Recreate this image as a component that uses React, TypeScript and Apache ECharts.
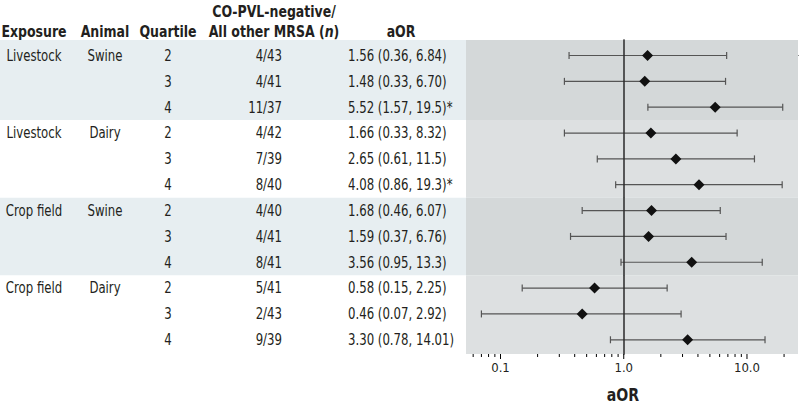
import React, { useEffect, useRef } from "react";
import * as echarts from "echarts";

// ---- data ----
const groupExposure = ["Livestock", "Livestock", "Crop field", "Crop field"];
const groupAnimal = ["Swine", "Dairy", "Swine", "Dairy"];
const quartiles = ["2", "3", "4", "2", "3", "4", "2", "3", "4", "2", "3", "4"];
const counts = ["4/43", "4/41", "11/37", "4/42", "7/39", "8/40", "4/40", "4/41", "8/41", "5/41", "2/43", "9/39"];
const aor = [1.56, 1.48, 5.52, 1.66, 2.65, 4.08, 1.68, 1.59, 3.56, 0.58, 0.46, 3.3];
const lower = [0.36, 0.33, 1.57, 0.33, 0.61, 0.86, 0.46, 0.37, 0.95, 0.15, 0.07, 0.78];
const upper = [6.84, 6.7, 19.5, 8.32, 11.5, 19.3, 6.07, 6.76, 13.3, 2.25, 2.92, 14.01];
const aorText = [
  "1.56 (0.36, 6.84)",
  "1.48 (0.33, 6.70)",
  "5.52 (1.57, 19.5)*",
  "1.66 (0.33, 8.32)",
  "2.65 (0.61, 11.5)",
  "4.08 (0.86, 19.3)*",
  "1.68 (0.46, 6.07)",
  "1.59 (0.37, 6.76)",
  "3.56 (0.95, 13.3)",
  "0.58 (0.15, 2.25)",
  "0.46 (0.07, 2.92)",
  "3.30 (0.78, 14.01)",
];
const majorTickValues = [0.1, 1, 10];
const majorTickLabels = ["0.1", "1.0", "10.0"];
const minorTickValues = [0.06, 0.07, 0.08, 0.09, 0.2, 0.3, 0.4, 0.5, 0.6, 0.7, 0.8, 0.9, 2, 3, 4, 5, 6, 7, 8, 9, 20];
const rowsPerGroup = 3;

const FONT = "'DejaVu Sans Condensed', 'Liberation Sans Narrow', sans-serif";
const TEXT = "#231f20";
const SX = 0.87;

export default function App() {
  const ref = useRef<HTMLDivElement>(null);
  useEffect(() => {
    if (!ref.current) return;
    const chart = echarts.init(ref.current, null, { renderer: "svg" });
    const lg = (v: number) => Math.log10(v);
    const yMin = -0.6;
    const yMax = 11.55;
    const xMin = -1.28;
    const xMax = 1.414;

    const exposureCol = aor.map((_, i) => (i % rowsPerGroup === 0 ? groupExposure[i / rowsPerGroup] : ""));
    const animalCol = aor.map((_, i) => (i % rowsPerGroup === 0 ? groupAnimal[i / rowsPerGroup] : ""));

    const bands = groupExposure.map((_, g) => [
      g === 0 ? yMin : g * rowsPerGroup - 0.5,
      g === groupExposure.length - 1 ? yMax : (g + 1) * rowsPerGroup - 0.5,
    ]);

    const textColumn = (texts: string[], colX: number, align: string) => ({
      type: "custom",
      xAxisIndex: 1,
      yAxisIndex: 1,
      silent: true,
      data: texts.map((_, i) => [colX, i]),
      renderItem: (params: any, api: any) => {
        const p = api.coord([api.value(0), api.value(1)]);
        return {
          type: "text",
          x: p[0],
          y: p[1],
          scaleX: SX,
          style: {
            text: texts[params.dataIndex],
            textAlign: align,
            textVerticalAlign: "middle",
            fill: TEXT,
            font: `15px ${FONT}`,
          },
        };
      },
    });

    const header = (text: string, x: number, y: number, align = "center") => ({
      type: "text",
      x,
      y,
      scaleX: SX,
      style: {
        text,
        textAlign: align,
        textVerticalAlign: "middle",
        fill: TEXT,
        font: `bold 16px ${FONT}`,
        rich: { i: { fontStyle: "italic", fontWeight: "bold", fontSize: 16, fontFamily: FONT, fill: TEXT } },
      },
    });

    const tickData = [
      ...majorTickValues.map((v) => [lg(v), 5]),
      ...minorTickValues.map((v) => [lg(v), 3]),
    ];

    const option: any = {
      animation: false,
      grid: [
        { left: 466, right: 2, top: 40, bottom: 53 },
        { left: 0, width: 466, top: 40, bottom: 53 },
      ],
      xAxis: [
        {
          type: "value",
          gridIndex: 0,
          position: "bottom",
          min: xMin,
          max: xMax,
          axisLine: { show: true, lineStyle: { color: "#000", width: 1.2 } },
          axisTick: { show: false },
          axisLabel: {
            show: true,
            customValues: majorTickValues.map(lg),
            formatter: (v: number) => {
              const k = majorTickValues.findIndex((t) => Math.abs(lg(t) - v) < 1e-6);
              return k >= 0 ? majorTickLabels[k] : "";
            },
            margin: 7,
            color: TEXT,
            fontFamily: FONT,
            fontSize: 13,
          },
          splitLine: { show: false },
        },
        { type: "value", gridIndex: 1, min: 0, max: 466, show: false },
      ],
      yAxis: [
        {
          type: "value",
          gridIndex: 0,
          inverse: true,
          min: yMin,
          max: yMax,
          axisLine: { show: true, lineStyle: { color: "#000", width: 1.5 } },
          axisTick: { show: false },
          axisLabel: { show: false },
          splitLine: { show: false },
        },
        { type: "value", gridIndex: 1, inverse: true, min: yMin, max: yMax, show: false },
      ],
      graphic: [
        header("Exposure", 34, 32),
        header("Animal", 105, 32),
        header("Quartile", 168, 32),
        header("CO-PVL-negative/", 274, 12),
        header("All other MRSA ({i|n})", 274, 32),
        header("aOR", 401, 32),
        {
          type: "text",
          x: 623,
          y: 395,
          scaleX: SX,
          style: { text: "aOR", textAlign: "center", textVerticalAlign: "middle", fill: TEXT, font: `bold 18px ${FONT}` },
        },
      ],
      series: [
        {
          type: "custom",
          xAxisIndex: 0,
          yAxisIndex: 0,
          silent: true,
          data: aor.map((_, i) => [lg(lower[i]), lg(upper[i]), i]),
          renderItem: (_params: any, api: any) => {
            const a = api.coord([api.value(0), api.value(2)]);
            const b = api.coord([api.value(1), api.value(2)]);
            const st = { stroke: "#555", lineWidth: 1.2 };
            return {
              type: "group",
              children: [
                { type: "line", shape: { x1: a[0], y1: a[1], x2: b[0], y2: b[1] }, style: st },
                { type: "line", shape: { x1: a[0], y1: a[1] - 3.5, x2: a[0], y2: a[1] + 3.5 }, style: st },
                { type: "line", shape: { x1: b[0], y1: b[1] - 3.5, x2: b[0], y2: b[1] + 3.5 }, style: st },
              ],
            };
          },
          markArea: {
            silent: true,
            data: bands.map((b, g) => [
              { yAxis: b[0], itemStyle: { color: g % 2 === 0 ? "#d4d8d9" : "#dde0e1" } },
              { yAxis: b[1] },
            ]),
          },
          markLine: {
            silent: true,
            symbol: "none",
            label: { show: false },
            lineStyle: { color: "#2a2a2a", width: 1.5, type: "solid" },
            data: [{ xAxis: 0 }],
          },
          z: 3,
        },
        {
          type: "custom",
          xAxisIndex: 0,
          yAxisIndex: 0,
          silent: true,
          clip: false,
          data: tickData,
          renderItem: (_params: any, api: any) => {
            const p = api.coord([api.value(0), yMax]);
            const len = api.value(1);
            return {
              type: "line",
              shape: { x1: p[0], y1: p[1], x2: p[0], y2: p[1] + len },
              style: { stroke: "#000", lineWidth: 1 },
            };
          },
          z: 6,
        },
        {
          type: "scatter",
          xAxisIndex: 0,
          yAxisIndex: 0,
          symbol: "diamond",
          symbolSize: [11, 11],
          itemStyle: { color: "#111", opacity: 1 },
          data: aor.map((v, i) => [lg(v), i]),
          silent: true,
          z: 5,
        },
        {
          type: "custom",
          xAxisIndex: 1,
          yAxisIndex: 1,
          silent: true,
          data: [],
          renderItem: () => null,
          markArea: {
            silent: true,
            data: bands
              .filter((_, g) => g % 2 === 0)
              .map((b) => [{ yAxis: b[0], itemStyle: { color: "#e7eef1" } }, { yAxis: b[1] }]),
          },
        },
        textColumn(exposureCol, 34, "center"),
        textColumn(animalCol, 105, "center"),
        textColumn(quartiles, 168, "center"),
        textColumn(counts, 282, "right"),
        textColumn(aorText, 348, "left"),
      ],
    };
    chart.setOption(option);
    return () => chart.dispose();
  }, []);
  return <div ref={ref} style={{ position: "fixed", left: 0, top: 0, width: 800, height: 407, background: "#fff" }} />;
}
